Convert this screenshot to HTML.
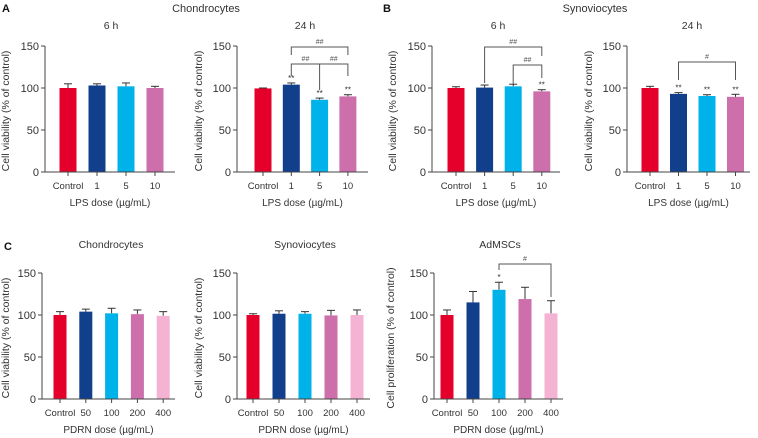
<!DOCTYPE html>
<html><head><meta charset="utf-8">
<style>
body{margin:0;background:#fff;}
svg{display:block;font-family:"Liberation Sans",sans-serif;}
</style></head>
<body>
<svg id="fig" width="758" height="438" viewBox="0 0 758 438" xmlns="http://www.w3.org/2000/svg">
<text x="2" y="12" font-size="11" font-weight="bold" fill="#111">A</text>
<text x="206" y="12" font-size="11" text-anchor="middle" fill="#333">Chondrocytes</text>
<text x="383" y="12" font-size="11" font-weight="bold" fill="#111">B</text>
<text x="595" y="12" font-size="11" text-anchor="middle" fill="#333">Synoviocytes</text>
<text x="4" y="250" font-size="11" font-weight="bold" fill="#111">C</text>
</svg>
<script>
// ---- data ----
const lpsCats = ["Control","1","5","10"];
const pdrnCats = ["Control","50","100","200","400"];
const yTicks = [0,50,100,150];
const a6Vals = [100,103,102,100];
const a6Errs = [5,2,4,2];
const a24Vals = [99.5,104,86,90];
const a24Errs = [0.5,2,2,2];
const b6Vals = [100,100.5,102,96];
const b6Errs = [1.5,3,2.5,2];
const b24Vals = [100,93,90.5,89.5];
const b24Errs = [2,1.5,1.5,3];
const c1Vals = [100,104,102,101,99];
const c1Errs = [4,3,6,5,5];
const c2Vals = [100,101.5,101.5,99.5,100];
const c2Errs = [1.5,3.5,2.5,6,6];
const c3Vals = [100,115,130,119,102];
const c3Errs = [6,13,9,14,15];
const lpsColors = ["#e4002b","#123f8c","#00b2ea","#cc6fab"];
const pdrnColors = ["#e4002b","#123f8c","#00b2ea","#cc6fab","#f4b3d3"];

const NS="http://www.w3.org/2000/svg";
const svg=document.getElementById('fig');
function el(tag,attrs,parent){const e=document.createElementNS(NS,tag);for(const k in attrs)e.setAttribute(k,attrs[k]);(parent||svg).appendChild(e);return e;}

function panel(o){
  const g=el('g',{});
  
  
  const y=v=>o.y0-(v/150)*(o.y0-o.y150);
  const x=i=>o.first+i*o.step;
  const t=el('text',{x:o.titleX,y:o.titleY,'font-size':10.5,'text-anchor':'middle',fill:'#333'},g);t.textContent=o.title;
  
  
  o.vals.forEach((v,i)=>{
    const cx=x(i),top=y(v+o.errs[i]);
    const l=el('line',{x1:cx,x2:cx,y1:y(v),y2:top,stroke:'#333','stroke-width':1},g);
    
    
    el('line',{x1:cx-4,x2:cx+4,y1:top,y2:top,stroke:'#333','stroke-width':1},g);
    const r=el('rect',{x:cx-o.bw/2,y:y(v),width:o.bw,height:o.y0-y(v),fill:o.colors[i]},g);
    
    
  });
  const ya=el('line',{x1:o.ax,x2:o.ax,y1:o.y150,y2:o.y0,stroke:'#444','stroke-width':1},g);
  
  
  const xa=el('line',{x1:o.ax,x2:o.axEnd,y1:o.y0,y2:o.y0,stroke:'#444','stroke-width':1},g);
  
  
  yTicks.forEach(v=>{
    el('line',{x1:o.ax-4,x2:o.ax,y1:y(v),y2:y(v),stroke:'#444'},g);
    const tt=el('text',{x:o.ax-6,y:y(v)+4,'font-size':11,'text-anchor':'end',fill:'#333'},g);tt.textContent=v;
    
    
  });
  o.cats.forEach((c,i)=>{
    el('line',{x1:x(i),x2:x(i),y1:o.y0,y2:o.y0+4,stroke:'#444'},g);
    const tt=el('text',{x:x(i),y:o.y0+17,'font-size':9.5,'text-anchor':'middle',fill:'#333'},g);tt.textContent=c;
    
    
  });
  const xt=el('text',{x:(o.ax+o.axEnd)/2,y:o.y0+34,'font-size':10,'text-anchor':'middle',fill:'#333'},g);xt.textContent=o.xTitle;
  
  
  const yl=el('text',{x:0,y:0,'font-size':10.5,'text-anchor':'middle',fill:'#333',transform:`translate(${o.ylX},${(o.y0+o.y150)/2+2}) rotate(-90)`},g);yl.textContent=o.yTitle;
  
  
  (o.stars||[]).forEach(s=>{
    const i=s[0];
    const st=el('text',{x:x(i),y:y(o.vals[i]+o.errs[i])-2,'font-size':8,'text-anchor':'middle',fill:'#333'},g);st.textContent=s[1];
    
    
  });
  (o.brackets||[]).forEach(b=>{
    const p=el('polyline',{points:`${x(b[0])},${b[3]} ${x(b[0])},${b[2]} ${x(b[1])},${b[2]} ${x(b[1])},${b[4]}`,fill:'none',stroke:'#555','stroke-width':1},g);
    
    
    const bt=el('text',{x:(x(b[0])+x(b[1]))/2,y:b[2]-3,'font-size':7,'text-anchor':'middle',fill:'#555'},g);bt.textContent=b[5];
    
    
  });
}
const LPS="LPS dose (µg/mL)",PD="PDRN dose (µg/mL)",CV="Cell viability (% of control)";
panel({name:'chart-a-6h',cats:lpsCats,vals:a6Vals,errs:a6Errs,colors:lpsColors,y0:172,y150:46,ax:45,axEnd:175,first:68,step:29,bw:17,title:'6 h',titleX:111,titleY:29,xTitle:LPS,yTitle:CV,ylX:9});
panel({name:'chart-a-24h',cats:lpsCats,vals:a24Vals,errs:a24Errs,colors:lpsColors,y0:172,y150:46,ax:237,axEnd:368,first:263,step:28.3,bw:17,title:'24 h',titleX:305,titleY:29,xTitle:LPS,yTitle:CV,ylX:202,
  stars:[[1,'**'],[2,'**'],[3,'**']],brackets:[[1,3,47,55,55,'##'],[1,2,64,76,64,'##'],[2,3,64,90,76,'##']]});
panel({name:'chart-b-6h',cats:lpsCats,vals:b6Vals,errs:b6Errs,colors:lpsColors,y0:172,y150:46,ax:432,axEnd:560,first:456,step:28.6,bw:17,title:'6 h',titleX:498,titleY:29,xTitle:LPS,yTitle:CV,ylX:396,
  stars:[[3,'**']],brackets:[[1,3,47,83,56,'##'],[2,3,65,84,78,'##']]});
panel({name:'chart-b-24h',cats:lpsCats,vals:b24Vals,errs:b24Errs,colors:lpsColors,y0:172,y150:46,ax:627,axEnd:750,first:650,step:28.5,bw:17,title:'24 h',titleX:692,titleY:29,xTitle:LPS,yTitle:CV,ylX:592,
  stars:[[1,'**'],[2,'**'],[3,'**']],brackets:[[1,3,62,80,80,'#']]});
panel({name:'chart-c-chondrocytes',cats:pdrnCats,vals:c1Vals,errs:c1Errs,colors:pdrnColors,y0:399,y150:273,ax:42,axEnd:175,first:60,step:25.8,bw:13,title:'Chondrocytes',titleX:111,titleY:248,xTitle:PD,yTitle:CV,ylX:9});
panel({name:'chart-c-synoviocytes',cats:pdrnCats,vals:c2Vals,errs:c2Errs,colors:pdrnColors,y0:399,y150:273,ax:237,axEnd:370,first:253,step:26,bw:13,title:'Synoviocytes',titleX:305,titleY:248,xTitle:PD,yTitle:CV,ylX:202});
panel({name:'chart-c-admscs',cats:pdrnCats,vals:c3Vals,errs:c3Errs,colors:pdrnColors,y0:399,y150:273,ax:434,axEnd:563,first:447,step:26,bw:13,title:'AdMSCs',titleX:500,titleY:248,xTitle:PD,yTitle:'Cell proliferation (% of control)',ylX:394,
  stars:[[2,'*']],brackets:[[2,4,264,270,297,'#']]});
</script>
</body></html>
